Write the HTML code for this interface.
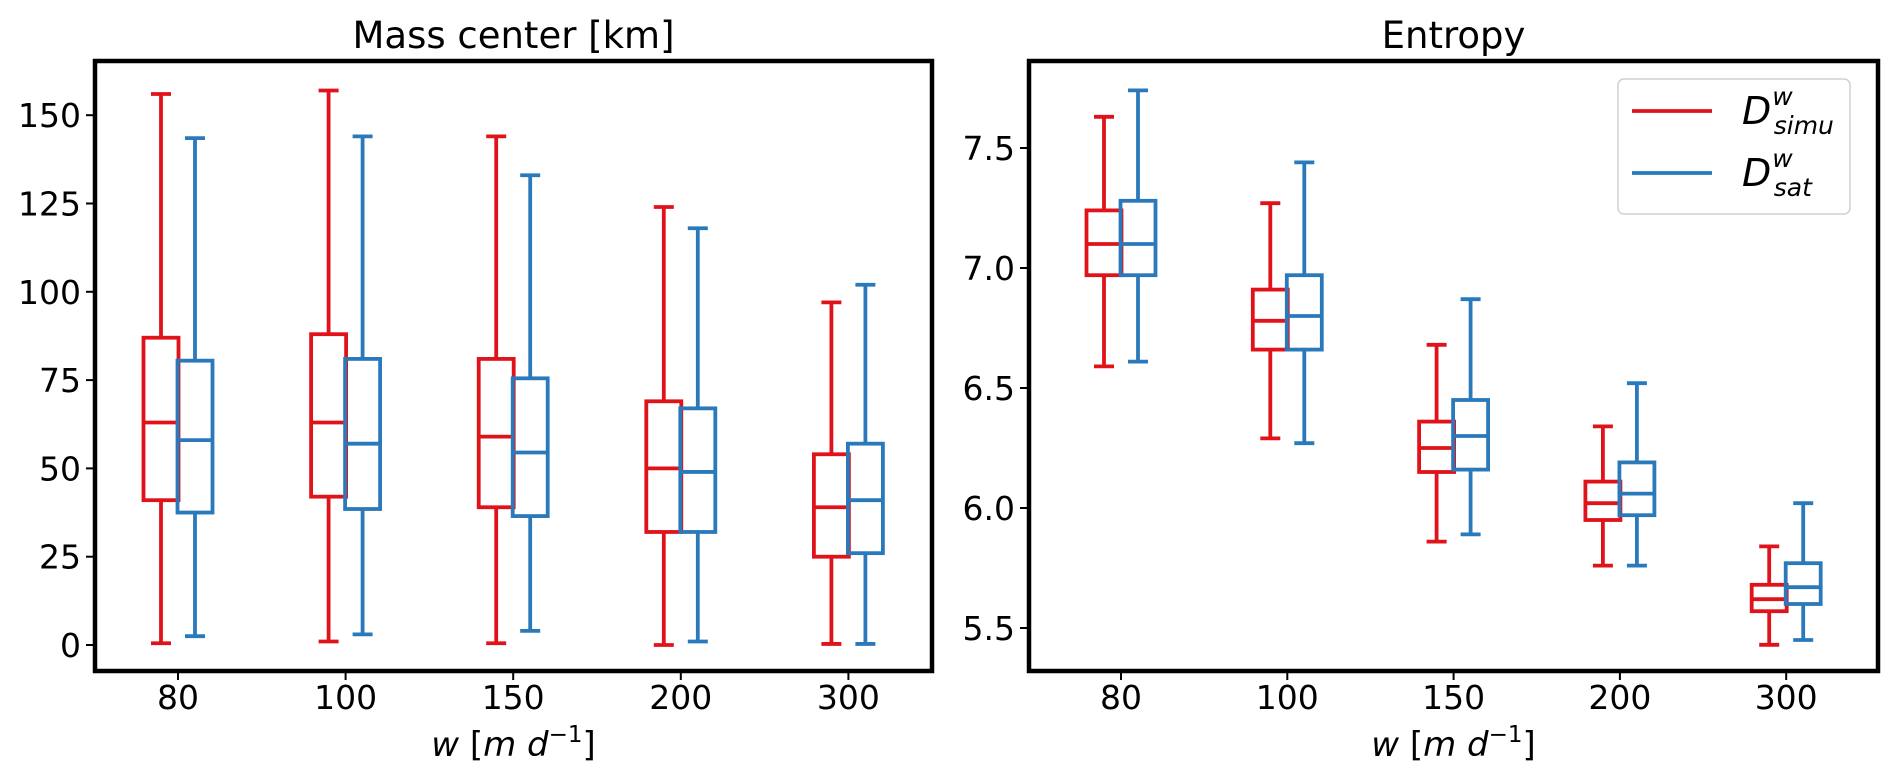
<!DOCTYPE html>
<html><head><meta charset="utf-8"><style>
html,body{margin:0;padding:0;background:#fff;}
svg{display:block;font-family:"DejaVu Sans","Liberation Sans",sans-serif;}
</style></head><body>
<svg id="fig" width="1892" height="779" viewBox="0 0 1892 779"></svg>
<script>
const categories = ["80","100","150","200","300"];
// [whisker_low, q1, median, q3, whisker_high]
const massSimu = [[0.5,41,63,87,156],[1,42,63,88,157],[0.5,39,59,81,144],[0,32,50,69,124],[0.3,25,39,54,97]];
const massSat  = [[2.5,37.5,58,80.5,143.5],[3,38.5,57,81,144],[4,36.5,54.5,75.5,133],[1,32,49,67,118],[0.3,26,41,57,102]];
const entSimu  = [[6.59,6.97,7.10,7.24,7.63],[6.29,6.66,6.78,6.91,7.27],[5.86,6.15,6.25,6.36,6.68],[5.76,5.95,6.02,6.11,6.34],[5.43,5.57,5.62,5.68,5.84]];
const entSat   = [[6.61,6.97,7.10,7.28,7.74],[6.27,6.66,6.80,6.97,7.44],[5.89,6.16,6.30,6.45,6.87],[5.76,5.97,6.06,6.19,6.52],[5.45,5.60,5.67,5.77,6.02]];
const massTicks = [0,25,50,75,100,125,150];
const entTicks = [5.5,6.0,6.5,7.0,7.5];
const entTickLabels = ["5.5","6.0","6.5","7.0","7.5"];

const NS="http://www.w3.org/2000/svg";
const svg=document.getElementById('fig');
function mk(tag,attrs,parent){const e=document.createElementNS(NS,tag);for(const k in attrs)e.setAttribute(k,attrs[k]);(parent||svg).appendChild(e);return e;}
const RED="#e0131a", BLUE="#2a79bb";

function panel(opt){
  const g=mk('g',{});
  
  
  const L=opt.L,R=opt.R,T=61,B=671;
  const y=v=>opt.y0px-(v-opt.y0)*opt.pxPer;
  const x=i=>opt.x0+i*opt.dx;
  const t=mk('text',{x:(L+R)/2,y:48,'text-anchor':'middle','font-size':37,fill:'#000'},g);
  t.textContent=opt.title;
  
  
  opt.yt.forEach((v,i)=>{
    mk('line',{x1:L-9,x2:L,y1:y(v),y2:y(v),stroke:'#000','stroke-width':2},g);
    const tx=mk('text',{x:L-14,y:y(v)+12,'text-anchor':'end','font-size':33,fill:'#000'},g);
    tx.textContent=opt.ytl[i];
    
    
  });
  categories.forEach((c,i)=>{
    mk('line',{x1:x(i),x2:x(i),y1:B,y2:B+9,stroke:'#000','stroke-width':2},g);
    const tx=mk('text',{x:x(i),y:709,'text-anchor':'middle','font-size':33,fill:'#000'},g);
    tx.textContent=c;
    
    
  });
  const xl=mk('text',{x:(L+R)/2,y:756,'text-anchor':'middle','font-size':34,fill:'#000'},g);
  xl.innerHTML='<tspan font-style="italic">w</tspan> [<tspan font-style="italic">m d</tspan><tspan font-size="23" dy="-14">−1</tspan><tspan dy="14">]</tspan>';
  
  
  const hw=17.5, cap=10;
  [[opt.s1,RED,-17],[opt.s2,BLUE,17]].forEach(([ser,col,off],si)=>{
    ser.forEach((d,i)=>{
      const cx=x(i)+off;
      const bg=mk('g',{stroke:col,'stroke-width':3.8,fill:'none'},g);
      
      
      mk('line',{x1:cx,x2:cx,y1:y(d[0]),y2:y(d[1])},bg);
      mk('line',{x1:cx,x2:cx,y1:y(d[3]),y2:y(d[4])},bg);
      mk('line',{x1:cx-cap,x2:cx+cap,y1:y(d[0]),y2:y(d[0])},bg);
      mk('line',{x1:cx-cap,x2:cx+cap,y1:y(d[4]),y2:y(d[4])},bg);
      mk('rect',{x:cx-hw,y:y(d[3]),width:2*hw,height:y(d[1])-y(d[3])},bg);
      mk('line',{x1:cx-hw,x2:cx+hw,y1:y(d[2]),y2:y(d[2])},bg);
    });
  });
  const fr=mk('rect',{x:L,y:T,width:R-L,height:B-T,fill:'none',stroke:'#000','stroke-width':4.5},g);
  
  
}
panel({name:'mass-center-panel',title:'Mass center [km]',L:95,R:932,x0:178,dx:167.6,y0:0,y0px:645,pxPer:88.3/25,yt:massTicks,ytl:massTicks.map(String),s1:massSimu,s2:massSat});
panel({name:'entropy-panel',title:'Entropy',L:1029,R:1878,x0:1121,dx:166.3,y0:5.5,y0px:628,pxPer:240,yt:entTicks,ytl:entTickLabels,s1:entSimu,s2:entSat});

const lg=mk('g',{});


mk('rect',{x:1618,y:79,width:232,height:135,rx:6,fill:'#fff',stroke:'#d0d0d0','stroke-width':1.5},lg);
[[RED,111,'simu'],[BLUE,173,'sat']].forEach(([c,yy,s])=>{
  const e=mk('g',{},lg);
  
  
  mk('line',{x1:1632,x2:1712,y1:yy,y2:yy,stroke:c,'stroke-width':3.8},e);
  const t=mk('text',{x:1742,y:yy+13,'font-size':38,'font-style':'italic',fill:'#000'},e);
  t.innerHTML='D<tspan font-size="25" dy="-19" dx="1">w</tspan><tspan font-size="25" dx="-19" dy="29">'+s+'</tspan>';
});
</script>
</body></html>
